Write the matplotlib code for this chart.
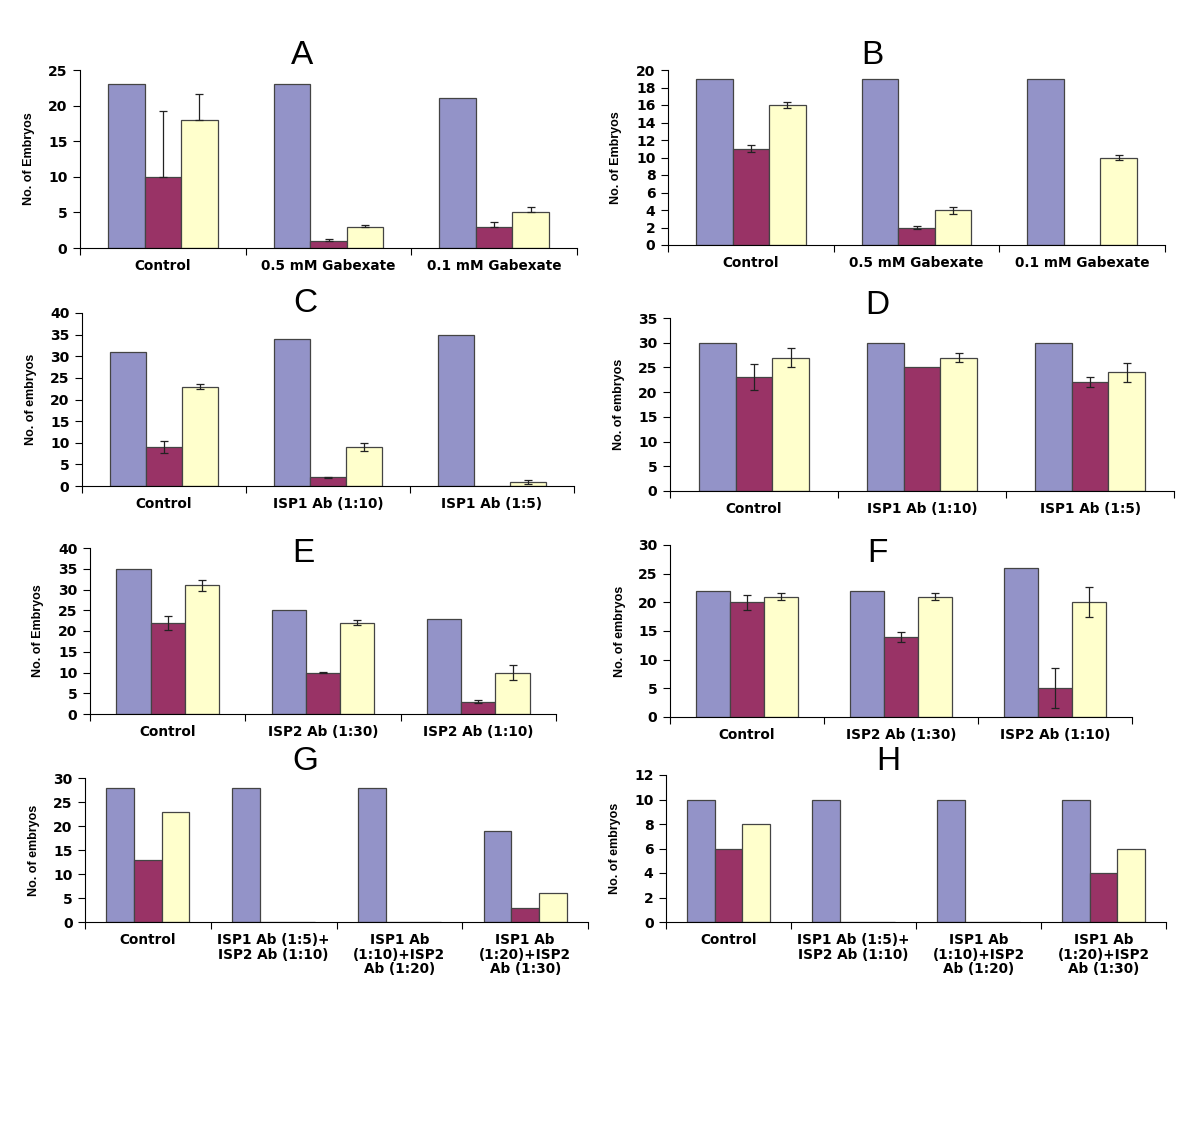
import matplotlib
matplotlib.use("Agg")
import matplotlib.pyplot as plt
import numpy as np

# ---- data ----
cats_gab = ["Control", "0.5 mM Gabexate", "0.1 mM Gabexate"]
cats_isp1 = ["Control", "ISP1 Ab (1:10)", "ISP1 Ab (1:5)"]
cats_isp2 = ["Control", "ISP2 Ab (1:30)", "ISP2 Ab (1:10)"]
cats_mix = ["Control", "ISP1 Ab (1:5)+\nISP2 Ab (1:10)",
            "ISP1 Ab\n(1:10)+ISP2\nAb (1:20)", "ISP1 Ab\n(1:20)+ISP2\nAb (1:30)"]

A_blue = [23, 23, 21]
A_purple = [10, 1, 3]
A_yellow = [18, 3, 5]
A_purple_err = [9.3, 0.2, 0.7]
A_yellow_err = [3.6, 0.3, 0.8]

B_blue = [19, 19, 19]
B_purple = [11, 2, 0]
B_yellow = [16, 4, 10]
B_purple_err = [0.4, 0.15, 0]
B_yellow_err = [0.3, 0.4, 0.3]

C_blue = [31, 34, 35]
C_purple = [9, 2, 0]
C_yellow = [23, 9, 1]
C_purple_err = [1.3, 0.12, 0]
C_yellow_err = [0.5, 1.0, 0.5]

D_blue = [30, 30, 30]
D_purple = [23, 25, 22]
D_yellow = [27, 27, 24]
D_purple_err = [2.6, 0, 1.0]
D_yellow_err = [2.0, 0.9, 1.9]

E_blue = [35, 25, 23]
E_purple = [22, 10, 3]
E_yellow = [31, 22, 10]
E_purple_err = [1.7, 0.15, 0.4]
E_yellow_err = [1.4, 0.6, 1.7]

F_blue = [22, 22, 26]
F_purple = [20, 14, 5]
F_yellow = [21, 21, 20]
F_purple_err = [1.3, 0.9, 3.5]
F_yellow_err = [0.6, 0.6, 2.6]

G_blue = [28, 28, 28, 19]
G_purple = [13, 0, 0, 3]
G_yellow = [23, 0, 0, 6]

H_blue = [10, 10, 10, 10]
H_purple = [6, 0, 0, 4]
H_yellow = [8, 0, 0, 6]

BLUE = "#9393c8"
PURPLE = "#993366"
YELLOW = "#ffffcc"

W, H = 1200, 1141
fig = plt.figure(figsize=(W / 100, H / 100), dpi=100)

SANS = ["Liberation Sans", "DejaVu Sans"]
WIDE = ["DejaVu Sans"]


def panel(box, letter, letter_xy, ylab, ylab_x, cats, blue, purple, yellow,
          ymax, ystep, perr=None, yerr=None, upper_only=False):
    x0, x1, ytop, ybot = box
    ax = fig.add_axes([x0 / W, 1 - ybot / H, (x1 - x0) / W, (ybot - ytop) / H])
    n = len(cats)
    x = np.arange(n)
    bw = 0.22
    for off, vals, col, err in [(-bw, blue, BLUE, None), (0, purple, PURPLE, perr),
                                (bw, yellow, YELLOW, yerr)]:
        ax.bar(x + off, vals, bw, color=col, edgecolor="#444444", linewidth=0.9, zorder=2)
        if err is not None:
            idx = [i for i in range(n) if err[i] > 0]
            xs = x[idx] + off
            vs = np.array(vals)[idx]
            es = np.array(err)[idx]
            if upper_only:
                e = [np.zeros_like(es), es]
            else:
                e = es
            ax.errorbar(xs, vs, yerr=e, fmt="none", ecolor="#222222",
                        elinewidth=0.9, capsize=3, capthick=0.9, zorder=3)
    ax.set_xlim(-0.5, n - 0.5)
    ax.set_ylim(0, ymax)
    ax.set_yticks(np.arange(0, ymax + 0.1, ystep))
    ax.set_xticks(x)
    ax.set_xticklabels(cats, fontsize=9.8, fontweight="bold", family=WIDE,
                       linespacing=1.05)
    ax.set_xticks(np.arange(-0.5, n, 1.0), minor=True)
    ax.tick_params(axis="x", which="major", length=0, pad=8)
    ax.tick_params(axis="x", which="minor", length=5, width=0.8, direction="out")
    ax.tick_params(axis="y", length=5, width=0.8, direction="out", pad=4)
    for lab in ax.get_yticklabels():
        lab.set_fontweight("bold")
        lab.set_fontsize(10)
        lab.set_family(WIDE)
    for s in ("top", "right"):
        ax.spines[s].set_visible(False)
    for s in ("left", "bottom"):
        ax.spines[s].set_linewidth(0.8)
    fig.text(ylab_x / W, 1 - (ytop + ybot) / 2 / H, ylab, rotation=90,
             ha="center", va="center", fontsize=9, fontweight="bold", family=SANS)
    fig.text(letter_xy[0] / W, 1 - letter_xy[1] / H, letter, ha="center",
             va="center", fontsize=24, family=SANS)
    return ax


panel((80, 577, 70, 248), "A", (302, 55), "No. of Embryos", 29, cats_gab,
      A_blue, A_purple, A_yellow, 25, 5, A_purple_err, A_yellow_err, upper_only=True)
panel((668, 1165, 70, 245), "B", (872, 55), "No. of Embryos", 616, cats_gab,
      B_blue, B_purple, B_yellow, 20, 2, B_purple_err, B_yellow_err)
panel((82, 574, 313, 486), "C", (305, 303), "No. of embryos", 31, cats_isp1,
      C_blue, C_purple, C_yellow, 40, 5, C_purple_err, C_yellow_err)
panel((670, 1174, 318, 491), "D", (877, 305), "No. of embryos", 619, cats_isp1,
      D_blue, D_purple, D_yellow, 35, 5, D_purple_err, D_yellow_err)
panel((90, 556, 548, 714), "E", (303, 553), "No. of Embryos", 38, cats_isp2,
      E_blue, E_purple, E_yellow, 40, 5, E_purple_err, E_yellow_err)
panel((670, 1132, 545, 717), "F", (877, 553), "No. of embryos", 620, cats_isp2,
      F_blue, F_purple, F_yellow, 30, 5, F_purple_err, F_yellow_err)
panel((85, 588, 778, 922), "G", (305, 762), "No. of embryos", 34, cats_mix,
      G_blue, G_purple, G_yellow, 30, 5)
panel((666, 1166, 775, 922), "H", (888, 762), "No. of embryos", 615, cats_mix,
      H_blue, H_purple, H_yellow, 12, 2)

fig.savefig("out.png", dpi=100)
